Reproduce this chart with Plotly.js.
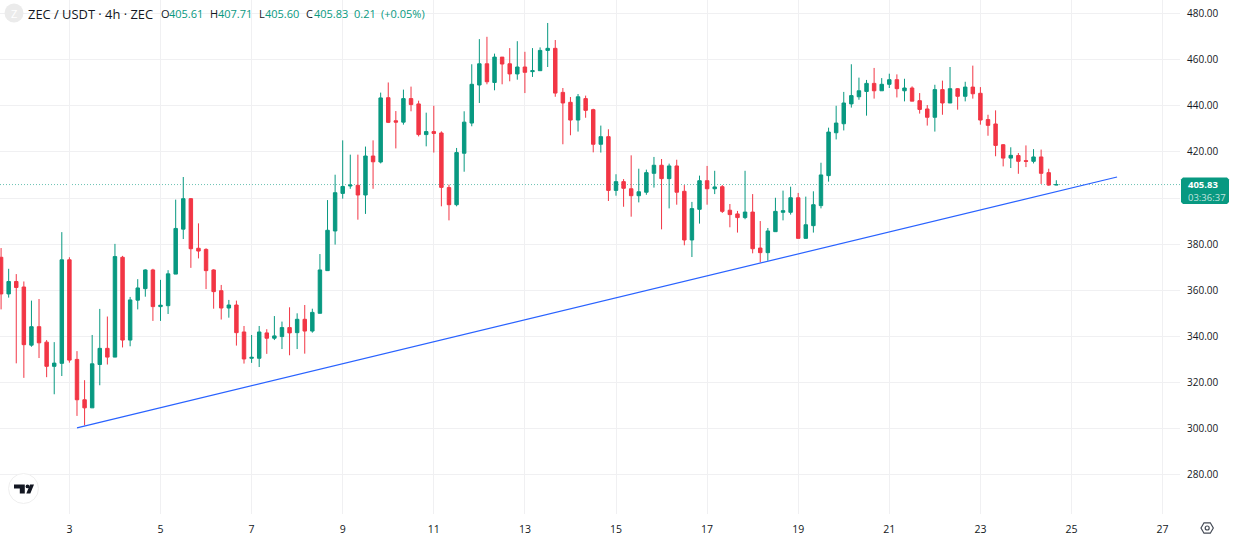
<!DOCTYPE html>
<html><head><meta charset="utf-8">
<script src="https://cdn.plot.ly/plotly-3.0.1.min.js"></script>
<style>html,body{margin:0;padding:0;background:#fff}#c{width:1234px;height:542px}</style>
</head><body><div id="c"></div>
<script>
const firstCandle = Date.UTC(2025,10,1,12);
const stepMs = 4*3600*1000;
const opens = [374.3,358.4,363.8,361.4,336.2,344.2,337.5,327,328.3,373.2,
330,312.5,309,327.8,334.8,331,374.3,338.4,355.7,360.7,
368.8,352.9,353.3,367,386.5,399.7,378.2,377.7,368.8,359.8,
352.3,353.6,341.9,330.5,330.5,341.5,339.2,339.9,343.8,341.6,
347.4,342.3,350,368.5,385.7,402,405.2,405.5,401.3,418.2,
415.6,443.5,433.5,432.9,443.1,440.8,427.5,428.8,428.2,404.5,
397.1,419.4,432.5,449,458.2,450.1,461.1,458.2,453.8,456.8,
454.8,455.2,464,464.9,445.8,441.5,433.8,443.1,438.3,423.3,
426.6,403.3,407.1,404,401,402.5,410.7,414.2,408.4,413.9,
402.9,381.8,395.1,407.5,404,404.9,394.7,393.1,391.5,393.9,
378.3,376.3,385.4,393.8,393.8,400.1,382.5,388,396.7,409.7,
428.3,432.2,440.8,443.9,446.2,449.7,446.5,449.3,451.3,446.5,
447.7,442.2,438.6,435,447,441.2,447.4,444.1,448.1,445.4,
434,432.1,423.1,417.3,418.4,416.2,415.9,417.8,411,405.61];
const highs = [378.3,369.3,367,363.8,355.5,356.2,338.4,337.5,385.2,374.3,
333.6,321,340.6,351.9,348.6,380.1,374.9,357.1,364.8,369.1,
369.3,364.5,368.7,399.3,409.1,400,389,378.2,369.1,362.3,
355.8,355.5,344.5,340.6,344.5,343.1,348.8,346.4,352.6,350,
353.6,352,375.7,399.1,410.1,425,418.8,418.8,422.3,425,
445.7,450.1,437.7,447,448.3,442.2,437,440,428.9,405.8,
421.7,437.6,458,468.9,469.9,462.6,461.1,465,468,463.4,
465,465.3,475.9,468.5,447.7,443.8,445.1,444.4,438.7,431.4,
429.8,410.3,408.2,418.5,412.7,412.3,417.8,416.9,414.9,416.6,
405.6,398.3,409.7,413.9,411.8,405.6,397.4,394.4,411.8,401.7,
390,387,400.1,403.2,404.9,402.2,400.6,402.9,415.3,430.5,
440,446,458,452.2,451.2,456.4,452,453.9,453.6,451.7,
448.4,445.5,440.3,449.1,450.9,456.8,447.7,450.4,457.4,448.1,
436.1,438,423.4,422,419.5,422.8,421.2,421,412.7,407.71];
const lows = [351.7,356.8,328.3,322,335.5,330.6,322.3,314.9,322.8,328.6,
305.5,301.4,309,318.8,327.8,331,335.2,335.7,351.7,357.2,
346.7,346.7,349.7,367,382.2,369.7,373.8,360.5,352,347.3,
348.1,336,328.2,328.5,326.7,332.4,338.4,334.5,331.8,334.5,
332.5,341.6,350,368.5,379.8,399.7,404,390.6,393.1,404,
415,432.5,421.5,431.8,437.6,426.7,422.4,419.7,396.4,390.3,
396.4,411.4,431.1,441.2,449.3,446.7,449.3,450.6,451.3,445.5,
452.5,455.2,456.8,443.9,423.3,427.2,428.8,434.8,419.8,419.7,
398.7,401,396.2,391.9,398.1,401.4,404.5,386.4,395.5,397.1,
379.5,374.4,388.9,397.1,401.7,393.5,387.3,385,390.8,376,
372.1,372.8,385.4,390.3,392.8,382.5,382.5,385,395.5,407.1,
425.4,429.3,439.2,442.6,435.7,443.1,446.5,447.7,443.6,441.9,
442,436.6,431.4,428.8,436.1,441.2,438.3,441.9,443.1,431.8,
427,418.1,413.7,413,410.5,413.4,415,406.1,405.3,405.6];
const closes = [358.4,363.8,361.2,336.4,344.2,337.2,327,328.4,373.2,329.7,
312.5,309,328.1,334.8,331,374.6,338.4,355.8,361,368.8,
352.9,353.5,367.1,386.8,399.7,378,377,368.5,359.4,352.3,
353.6,341.6,330.2,330.9,341.9,339.2,340.2,343.8,341.5,347.4,
342.3,350.4,368.8,386,402.3,405,405.6,401.3,418.2,415.7,
443.4,432.8,432.9,443.1,440.5,427.5,428.8,428,404.6,397.1,
419.7,432.9,449.3,458.2,450.4,461.1,458.1,453.8,456.8,454.5,
455.2,464,464.9,445.5,441.2,433.8,443.9,438,423.3,426.6,
403.3,407.1,404.2,401,402.7,411,414.2,408.4,413.9,402.5,
381.8,395.4,407.5,404,404.8,394.2,392.8,391.5,393.9,378,
376.3,385.7,394.2,394.5,400.1,382.5,388.4,397.1,410,428.6,
432.5,441.2,444.4,446.5,449.7,446.5,449.3,451.3,447.4,447.7,
442,438.4,435,447,441.2,447.4,444.1,448.1,445.2,433.8,
431.5,422.8,417.3,418.5,415.9,415.9,417.8,410.7,405.6,405.83];
const trendX = ['2025-11-03 04:00','2025-11-26 00:00'];
const trendY = [300.3,409.1];
const lastPrice = 405.83;
const countdown = '03:36:37';
const yTicks = [280,300,320,340,360,380,400,420,440,460,480];
const yTickLabels = ['280.00','300.00','320.00','340.00','360.00','380.00','','420.00','440.00','460.00','480.00'];

const GREEN='#089981', RED='#F23645', INK='#131722';
const W=1180, H=514;
const fx=x=>x/W, fy=y=>1-y/H;
const times = opens.map((_,i)=>firstCandle+i*stepMs);

const poly=(pts,close=true)=>pts.map((p,i)=>(i?'L':'M')+fx(p[0])+','+fy(p[1])).join(' ')+(close?' Z':'');
const paperShape=(path,fill,line,lw)=>({type:'path',xref:'paper',yref:'paper',path:path,fillcolor:fill||'rgba(0,0,0,0)',line:{color:line||'rgba(0,0,0,0)',width:lw||0},layer:'above'});
const circle=(cx,cy,r,fill,line,lw)=>({type:'circle',xref:'paper',yref:'paper',x0:fx(cx-r),x1:fx(cx+r),y0:fy(cy+r),y1:fy(cy-r),fillcolor:fill,line:{color:line||'rgba(0,0,0,0)',width:lw||0},layer:'above'});

const shapes=[
 {type:'line',xref:'paper',yref:'y',x0:0,x1:1,y0:lastPrice,y1:lastPrice,line:{color:'rgba(8,153,129,0.6)',width:1,dash:'1px,2px'},layer:'below'},
 paperShape(poly([[1183,177.5],[1227,177.5],[1229,179.5],[1229,202],[1227,204],[1183,204],[1181,202],[1181,179.5]]),GREEN),
 circle(14,13,9.5,'#ebebeb'),
 circle(23.5,488.5,15,'#ffffff','#efefef',1),
 paperShape(poly([[14,484.5],[24.8,484.5],[24.8,493.5],[19.8,493.5],[19.8,488.4],[14,488.4]]),'#131722'),
 circle(27.5,486.4,1.9,'#131722'),
 paperShape(poly([[30,484.5],[34,484.5],[30.3,493.5],[26.3,493.5]]),'#131722'),
 paperShape(poly([[1201,528],[1204,522.8],[1210.3,522.8],[1213.3,528],[1210.3,533.2],[1204,533.2]]),null,'#444a55',1.2),
 circle(1207.2,528,2,'rgba(0,0,0,0)','#444a55',1.2)
];

const FONT='"Open Sans", Roboto, sans-serif';
const txt=(x,y,s,color,size,opt)=>Object.assign({xref:'paper',yref:'paper',x:fx(x),y:fy(y),text:s,showarrow:false,xanchor:'left',yanchor:'middle',borderpad:0,font:{family:FONT,size:size,color:color}},opt||{});
const annotations=[
 txt(14,13,'Z','#ffffff',11,{xanchor:'center'}),
 txt(26.5,13.5,'ZEC / USDT · 4h · ZEC',INK,12.9),
 txt(160,13.5,'O',INK,11), txt(168,13.5,'405.61',GREEN,11),
 txt(209,13.5,'H',INK,11), txt(217,13.5,'407.71',GREEN,11),
 txt(258,13.5,'L',INK,11), txt(264,13.5,'405.60',GREEN,11),
 txt(305,13.5,'C',INK,11), txt(313,13.5,'405.83',GREEN,11),
 txt(353,13.5,'0.21',GREEN,11), txt(380,13.5,'(+0.05%)',GREEN,11),
 txt(1187,184.5,'<b>'+lastPrice.toFixed(2)+'</b>','#ffffff',9.5),
 txt(1187,197.5,countdown,'rgba(255,255,255,0.75)',9.5)
];

const traces=[
 {type:'candlestick',x:times,open:opens,high:highs,low:lows,close:closes,
  increasing:{line:{color:GREEN,width:1},fillcolor:GREEN},
  decreasing:{line:{color:RED,width:1},fillcolor:RED},
  whiskerwidth:0,hoverinfo:'skip',showlegend:false},
 {type:'scatter',mode:'lines',x:trendX,y:trendY,line:{color:'#2962FF',width:1.2},hoverinfo:'skip',showlegend:false}
];

const layout={
 width:1234,height:542,margin:{l:0,r:54,t:0,b:28,pad:0},
 paper_bgcolor:'#ffffff',plot_bgcolor:'#ffffff',showlegend:false,boxgap:0.35,
 font:{family:FONT,color:INK,size:10},
 xaxis:{type:'date',range:['2025-11-01 11:26','2025-11-27 09:10'],rangeslider:{visible:false},
  tick0:'2025-11-03',dtick:2*86400000,tickformat:'%-d',showgrid:true,gridcolor:'#f0f0f2',gridwidth:1,
  zeroline:false,showline:false,ticks:'outside',ticklen:5,tickcolor:'rgba(0,0,0,0)',tickfont:{size:10.5,color:INK,family:FONT}},
 yaxis:{side:'right',range:[262.97,485.86],tickmode:'array',tickvals:yTicks,ticktext:yTickLabels,
  showgrid:true,gridcolor:'#f0f0f2',gridwidth:1,zeroline:false,showline:false,ticks:'outside',ticklen:4,tickcolor:'rgba(0,0,0,0)',
  tickfont:{size:10,color:INK,family:FONT}},
 shapes:shapes,annotations:annotations
};
Plotly.newPlot('c',traces,layout,{displayModeBar:false,staticPlot:true});
</script></body></html>
